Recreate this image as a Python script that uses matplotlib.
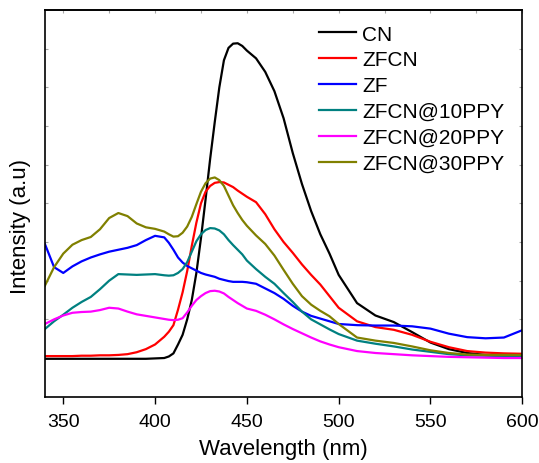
import numpy as np
import matplotlib
matplotlib.use("Agg")
import matplotlib.pyplot as plt

plt.rcParams['font.family'] = ['Liberation Sans', 'DejaVu Sans']

# wavelength grid (nm)
wavelength = [340, 345, 350, 355, 360, 365, 370, 375, 380, 385, 390, 395, 400, 405, 407.5,
              410, 412.5, 415, 417.5, 420, 422.5, 425, 427.5, 430, 432.5, 435, 437.5,
              440, 442.5, 445, 447.5, 450,
              455, 460, 465, 470, 475, 480, 485, 490, 495, 500,
              510, 520, 530, 540, 550, 560, 570, 580, 590, 600]

cn = [0.98, 0.98, 0.98, 0.98, 0.98, 0.98, 0.98, 0.98, 0.98, 0.98, 0.98, 0.98, 0.99, 1.0, 1.04,
      1.12, 1.35, 1.6, 2.0, 2.5, 3.2, 4.1, 5.1, 6.15, 7.1, 8.0, 8.7,
      9.02, 9.13, 9.14, 9.07, 8.95,
      8.75, 8.4, 7.9, 7.2, 6.3, 5.5, 4.8, 4.2, 3.7, 3.15,
      2.42, 2.1, 1.93, 1.67, 1.4, 1.23, 1.13, 1.08, 1.06, 1.05]

zfcn = [1.05, 1.05, 1.05, 1.05, 1.06, 1.06, 1.07, 1.07, 1.08, 1.1, 1.15, 1.23, 1.35, 1.55, 1.68,
        1.85, 2.25, 2.7, 3.25, 3.9, 4.5, 5.0, 5.3, 5.45, 5.53, 5.55, 5.54,
        5.48, 5.42, 5.33, 5.25, 5.17,
        5.03, 4.72, 4.33, 4.0, 3.72, 3.42, 3.15, 2.9, 2.6, 2.3,
        1.95, 1.8, 1.73, 1.6, 1.42, 1.28, 1.18, 1.14, 1.12, 1.11]

zf = [3.95, 3.35, 3.2, 3.37, 3.5, 3.6, 3.68, 3.75, 3.8, 3.85, 3.92, 4.05, 4.16, 4.12, 3.98,
      3.8, 3.6, 3.47, 3.38, 3.32, 3.26, 3.2, 3.16, 3.13, 3.1, 3.05, 3.02,
      2.99, 2.97, 2.97, 2.97, 2.96,
      2.92, 2.8, 2.68, 2.53, 2.35, 2.2, 2.09, 2.02, 1.95, 1.88,
      1.85, 1.84, 1.84, 1.82, 1.76, 1.63, 1.54, 1.51, 1.53, 1.72]

zfcn_10ppy = [1.75, 1.95, 2.12, 2.3, 2.45, 2.58, 2.78, 3.0, 3.17, 3.16, 3.15, 3.16, 3.17, 3.14, 3.13,
              3.14, 3.2, 3.3, 3.48, 3.75, 4.02, 4.2, 4.31, 4.36, 4.35, 4.3, 4.2,
              4.05, 3.92, 3.8, 3.68, 3.52,
              3.3, 3.1, 2.92, 2.68, 2.45, 2.2, 2.0, 1.87, 1.74, 1.62,
              1.45, 1.37, 1.3, 1.22, 1.16, 1.1, 1.07, 1.06, 1.05, 1.05]

zfcn_20ppy = [1.88, 2.0, 2.1, 2.17, 2.19, 2.2, 2.24, 2.3, 2.28, 2.2, 2.13, 2.09, 2.05, 2.01, 1.99,
              1.98, 1.99, 2.03, 2.18, 2.35, 2.5, 2.6, 2.68, 2.73, 2.74, 2.72, 2.67,
              2.58, 2.5, 2.42, 2.35, 2.28,
              2.22, 2.12, 2.0, 1.87, 1.75, 1.64, 1.53, 1.43, 1.35, 1.28,
              1.18, 1.13, 1.1, 1.07, 1.05, 1.03, 1.02, 1.01, 1.0, 1.0]

zfcn_30ppy = [2.87, 3.35, 3.7, 3.93, 4.05, 4.13, 4.33, 4.62, 4.75, 4.67, 4.48, 4.38, 4.34, 4.27, 4.2,
              4.14, 4.15, 4.24, 4.4, 4.65, 4.98, 5.3, 5.52, 5.64, 5.67, 5.6, 5.45,
              5.2, 4.95, 4.75, 4.57, 4.42,
              4.17, 3.95, 3.65, 3.28, 2.92, 2.6, 2.38, 2.22, 2.08, 1.88,
              1.53, 1.45, 1.39, 1.3, 1.2, 1.13, 1.09, 1.08, 1.08, 1.08]

series = [
    ("CN", cn, "black"),
    ("ZFCN", zfcn, "#ff0000"),
    ("ZF", zf, "#0000ff"),
    ("ZFCN@10PPY", zfcn_10ppy, "#008080"),
    ("ZFCN@20PPY", zfcn_20ppy, "#ff00ff"),
    ("ZFCN@30PPY", zfcn_30ppy, "#808000"),
]

fig = plt.figure(figsize=(5.39, 4.64), dpi=100)
ax = fig.add_axes([0.0833, 0.1429, 0.8857, 0.8334])

for name, vals, col in series:
    ax.plot(wavelength, vals, color=col, lw=1.6, label=name,
            solid_joinstyle='round')

ax.set_xlim(340, 600)
ax.set_ylim(0, 10)

# bottom ticks outward with labels
ax.set_xticks(np.arange(350, 601, 50))
ax.tick_params(axis='x', direction='out', length=5, width=1, labelsize=14, pad=7,
               top=False)
# faint inner ticks on the left/right
ax.set_yticks(np.arange(1, 10))
ax.tick_params(axis='y', direction='in', length=2, width=0.8, color='0.65',
               left=True, right=True, labelleft=False)
# faint inner ticks along the top
top = ax.secondary_xaxis('top')
top.set_xticks(np.arange(350, 601, 25))
top.tick_params(direction='in', length=2, width=0.8, color='0.65', labeltop=False)
top.spines['top'].set_linewidth(1.2)

for s in ax.spines.values():
    s.set_linewidth(1.2)

ax.set_xlabel("Wavelength (nm)", fontsize=16)
ax.set_ylabel("Intensity (a.u)", fontsize=16)
ax.xaxis.set_label_coords(0.5, -0.108)
ax.yaxis.set_label_coords(-0.03, 0.444)

ax.legend(loc='upper left', bbox_to_anchor=(0.543, 1.0), frameon=False, fontsize=15,
          handlelength=1.8, handletextpad=0.3, labelspacing=0.33, borderaxespad=0.3)

fig.savefig("out.png", dpi=100)
